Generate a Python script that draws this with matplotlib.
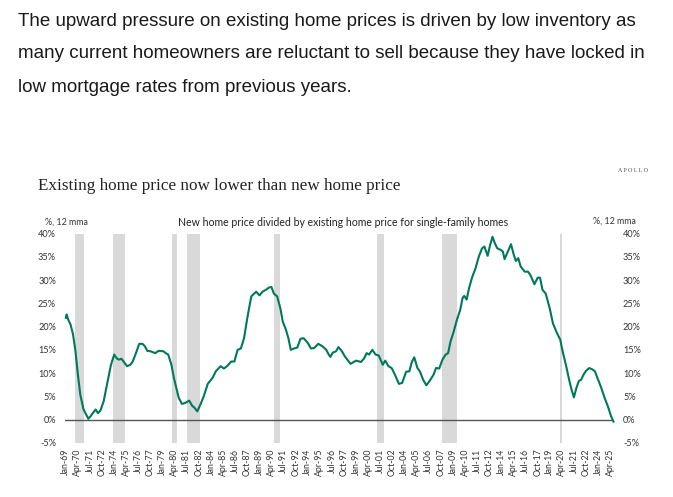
import matplotlib
matplotlib.use("Agg")
import matplotlib.pyplot as plt
import pandas as pd

# ---- data ----
dates = [
    "1969-01", "1969-02", "1969-04", "1969-07", "1969-10", "1970-01", "1970-04", "1970-07",
    "1970-11", "1971-05", "1971-08", "1971-10", "1972-02", "1972-05", "1972-08", "1972-12",
    "1973-04", "1973-09", "1974-01", "1974-04", "1974-07", "1974-10", "1975-01", "1975-05",
    "1975-09", "1975-12", "1976-04", "1976-08", "1976-12", "1977-03", "1977-06", "1977-10",
    "1978-04", "1978-08", "1979-02", "1979-05", "1979-08", "1979-12", "1980-03", "1980-06",
    "1980-09", "1981-01", "1981-05", "1981-10", "1982-02", "1982-04", "1982-08", "1982-12",
    "1983-04", "1983-09", "1984-03", "1984-07", "1985-01", "1985-05", "1985-09", "1986-02",
    "1986-06", "1986-10", "1987-02", "1987-06", "1987-10", "1988-03", "1988-09", "1989-01",
    "1989-05", "1989-09", "1990-01", "1990-04", "1990-07", "1990-11", "1991-03", "1991-06",
    "1991-10", "1992-01", "1992-04", "1992-08", "1992-12", "1993-04", "1993-08", "1994-01",
    "1994-05", "1994-09", "1995-02", "1995-07", "1995-12", "1996-03", "1996-05", "1996-08",
    "1996-12", "1997-03", "1997-07", "1997-11", "1998-02", "1998-06", "1999-01", "1999-07",
    "1999-11", "2000-02", "2000-05", "2000-09", "2001-01", "2001-05", "2001-10", "2002-01",
    "2002-05", "2002-09", "2003-01", "2003-06", "2003-10", "2004-03", "2004-07", "2004-10",
    "2005-01", "2005-05", "2005-08", "2005-12", "2006-04", "2006-08", "2007-01", "2007-04",
    "2007-08", "2007-12", "2008-04", "2008-07", "2008-10", "2009-02", "2009-06", "2009-10",
    "2010-01", "2010-03", "2010-06", "2010-09", "2011-01", "2011-05", "2011-09", "2012-01",
    "2012-04", "2012-08", "2012-11", "2013-02", "2013-05", "2013-08", "2013-12", "2014-03",
    "2014-05", "2014-09", "2015-01", "2015-04", "2015-07", "2015-10", "2016-01", "2016-06",
    "2016-10", "2017-01", "2017-06", "2017-10", "2018-01", "2018-04", "2018-08", "2019-01",
    "2019-05", "2019-10", "2020-02", "2020-05", "2020-09", "2021-01", "2021-04", "2021-07",
    "2021-10", "2022-01", "2022-04", "2022-07", "2022-10", "2023-02", "2023-06", "2023-09",
    "2024-01", "2024-05", "2024-09", "2025-01", "2025-05", "2025-08",
]
ratio = [
    21.9, 22.6, 21.5, 20.4, 18.3, 14.7, 9.7, 5.4,
    2.2, 0.2, 0.8, 1.3, 2.2, 1.4, 2.0, 4.0,
    7.5, 11.8, 14.0, 13.2, 12.9, 13.1, 12.4, 11.5,
    11.8, 12.5, 14.3, 16.3, 16.3, 15.8, 14.8, 14.7,
    14.3, 14.8, 14.7, 14.3, 14.0, 11.8, 9.0, 6.8,
    4.7, 3.4, 3.6, 4.1, 2.9, 2.7, 1.8, 3.3,
    5.0, 7.7, 9.0, 10.4, 11.5, 11.0, 11.5, 12.5,
    12.5, 15.0, 15.3, 17.5, 21.8, 26.5, 27.5, 26.7,
    27.5, 27.9, 28.4, 28.5, 27.1, 26.5, 24.0, 21.1,
    19.3, 17.5, 15.0, 15.3, 15.5, 17.4, 17.5, 16.5,
    15.3, 15.4, 16.3, 15.8, 15.0, 14.0, 13.5, 14.4,
    14.7, 15.6, 14.8, 13.6, 12.9, 12.0, 12.7, 12.4,
    13.2, 14.3, 14.0, 15.0, 14.0, 13.8, 11.8, 12.7,
    11.5, 11.1, 9.7, 7.7, 7.9, 10.3, 10.4, 12.4,
    13.4, 11.1, 10.4, 8.6, 7.4, 8.3, 9.7, 11.1,
    11.0, 12.9, 14.0, 14.3, 16.8, 19.0, 21.5, 23.6,
    26.2, 26.6, 25.8, 28.3, 30.7, 32.5, 35.0, 36.8,
    37.2, 35.2, 37.5, 39.3, 37.9, 36.8, 36.5, 36.1,
    34.5, 36.1, 37.7, 35.7, 34.1, 34.7, 32.9, 31.8,
    31.8, 31.1, 29.1, 30.5, 30.5, 27.9, 27.1, 23.9,
    20.7, 18.6, 17.2, 14.7, 11.8, 8.6, 6.5, 4.8,
    6.8, 8.3, 8.6, 9.7, 10.5, 11.1, 10.8, 10.4,
    8.6, 6.8, 4.7, 2.9, 0.8, -0.4,
]
recession_start = ["1969-12", "1973-11", "1980-01", "1981-07", "1990-07", "2001-03", "2007-12", "2020-02"]
recession_end = ["1970-11", "1975-03", "1980-07", "1982-11", "1991-03", "2001-11", "2009-06", "2020-04"]
tick_labels = [
    "Jan-69", "Apr-70", "Jul-71", "Oct-72", "Jan-74", "Apr-75", "Jul-76", "Oct-77", "Jan-79",
    "Apr-80", "Jul-81", "Oct-82", "Jan-84", "Apr-85", "Jul-86", "Oct-87", "Jan-89", "Apr-90",
    "Jul-91", "Oct-92", "Jan-94", "Apr-95", "Jul-96", "Oct-97", "Jan-99", "Apr-00", "Jul-01",
    "Oct-02", "Jan-04", "Apr-05", "Jul-06", "Oct-07", "Jan-09", "Apr-10", "Jul-11", "Oct-12",
    "Jan-14", "Apr-15", "Jul-16", "Oct-17", "Jan-19", "Apr-20", "Jul-21", "Oct-22", "Jan-24",
    "Apr-25",
]
y_ticks = [-5, 0, 5, 10, 15, 20, 25, 30, 35, 40]

# ---- figure ----
W, H = 673, 497
fig = plt.figure(figsize=(W / 100, H / 100), dpi=100)
fig.patch.set_facecolor("white")

def px(x, y):
    return x / W, 1 - y / H

para = ["The upward pressure on existing home prices is driven by low inventory as",
        "many current homeowners are reluctant to sell because they have locked in",
        "low mortgage rates from previous years."]
for i, line in enumerate(para):
    fig.text(*px(18, 21 + 33 * i), line, fontsize=13.5, family="Liberation Sans",
             color="#1a1a1a", va="center", ha="left")

fig.text(*px(38, 186), "Existing home price now lower than new home price",
         fontsize=12.3, family="Liberation Serif", color="#222222", va="center", ha="left")
fig.text(*px(648, 170), "A P O L L O", fontsize=4.3, family="Liberation Serif",
         color="#555555", va="center", ha="right")

fig.text(*px(45, 222.5), "%, 12 mma", fontsize=6.4, family="Lato", color="#333333",
         va="center", ha="left")
fig.text(*px(636, 221), "%, 12 mma", fontsize=6.4, family="Lato", color="#333333",
         va="center", ha="right")
fig.text(*px(343, 222), "New home price divided by existing home price for single-family homes",
         fontsize=7.6, family="Lato", color="#222222", va="center", ha="center")

left, right = 65 / W, 613 / W
top, bottom = 1 - 233.5 / H, 1 - 443 / H
ax = fig.add_axes([left, bottom, right - left, top - bottom])

x = pd.to_datetime(dates)
ax.set_xlim(pd.Timestamp("1968-12-01"), pd.Timestamp("2025-07-15"))
ax.set_ylim(-5, 40)

for s, e in zip(recession_start, recession_end):
    ax.axvspan(pd.Timestamp(s), pd.Timestamp(e), color="#d9d9d9", lw=0, zorder=0)

ax.axhline(0, color="#555555", lw=1.0, zorder=1)
ax.plot(x, ratio, color="#00785a", lw=1.5, zorder=3, clip_on=False)

for sp in ax.spines.values():
    sp.set_visible(False)

tick_pos = pd.to_datetime(tick_labels, format="%b-%y")
ax.set_xticks(tick_pos)
ax.set_xticklabels(tick_labels, rotation=90, fontsize=6.3, family="Lato", color="#333333")
ax.set_yticks(y_ticks)
ax.set_yticklabels([f"{v}%" for v in y_ticks], fontsize=6.6, family="Lato", color="#333333")
ax.tick_params(axis="both", length=0)
ax.tick_params(axis="x", pad=4)
ax.tick_params(axis="y", pad=6.5)

ax2 = ax.twinx()
ax2.set_ylim(-5, 40)
ax2.set_yticks(y_ticks)
ax2.set_yticklabels([f"{v}%" for v in y_ticks], fontsize=6.6, family="Lato", color="#333333")
ax2.tick_params(axis="y", length=0, pad=7.2)
for sp in ax2.spines.values():
    sp.set_visible(False)

fig.savefig("out.png", dpi=100, facecolor="white")
